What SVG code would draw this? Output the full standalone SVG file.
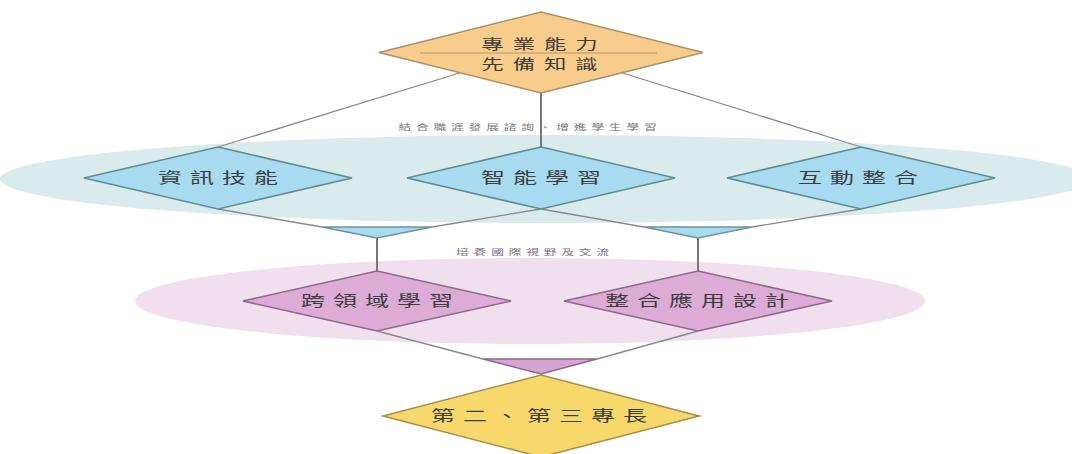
<svg xmlns="http://www.w3.org/2000/svg" width="1072" height="454" viewBox="0 0 1072 454">
<defs>
<style>
.t{font-family:"Noto Sans CJK TC","Noto Sans CJK SC",sans-serif;font-size:15px;fill:#3d3d3d;text-anchor:middle;letter-spacing:5px}
.tt{font-size:14px;letter-spacing:5.6px}
.s{font-family:"Noto Sans CJK TC","Noto Sans CJK SC",sans-serif;font-size:8.5px;fill:#777;text-anchor:middle;letter-spacing:3.2px}
.c{stroke:#8a8a8a;stroke-width:1.3;fill:none}
.v{stroke:#777;stroke-width:2;fill:none}
.blue{fill:#a8dbef;stroke:#5e8d93;stroke-width:1.6}
.pink{fill:#dcabd6;stroke:#8e6a8c;stroke-width:1.6}
</style>
</defs>
<rect width="1072" height="454" fill="#fff"/>
<g id="bands">
<ellipse cx="545" cy="179" rx="545" ry="44" fill="#d9ebec"/>
<ellipse cx="530" cy="301" rx="395" ry="43" fill="#f1dfee"/>
</g>
<g id="labels">
<text class="s" transform="translate(530,130) scale(1.5,1)">結合職涯發展諮詢、增進學生學習</text>
<text class="s" transform="translate(535,255) scale(1.5,1)" style="fill:#7e6e8a">培養國際視野及交流</text>
</g>
<g id="connectors">
<line class="c" x1="459.5" y1="73" x2="218" y2="147"/>
<line class="c" x1="622.5" y1="73" x2="861" y2="147"/>
<line class="v" x1="541" y1="93" x2="541" y2="147"/>
<line class="c" x1="218" y1="209" x2="322" y2="227"/>
<line class="c" x1="541" y1="209" x2="432" y2="227"/>
<line class="c" x1="541" y1="209" x2="644" y2="227"/>
<line class="c" x1="861" y1="209" x2="752" y2="227"/>
<line class="v" x1="377" y1="238" x2="377" y2="271"/>
<line class="v" x1="698" y1="238" x2="698" y2="271"/>
<line class="c" x1="377" y1="331" x2="483" y2="359"/>
<line class="c" x1="698" y1="331" x2="597" y2="359"/>
<polygon points="322,227 432,227 377,238" fill="#a8dbef" stroke="#6f9298" stroke-width="1.3"/>
<polygon points="644,227 752,227 698,238" fill="#a8dbef" stroke="#6f9298" stroke-width="1.3"/>
<polygon points="483,359 597,359 541,374" fill="#d6a3d2" stroke="#8e6a8c" stroke-width="1.3"/>
</g>
<g id="n-top">
<polygon points="541,12 703,52.5 541,93 379,52.5" fill="#f8cd8c" stroke="#a8926a" stroke-width="1.6"/>
<line x1="420" y1="53" x2="657" y2="53" stroke="#b49668" stroke-width="1"/>
<text class="t tt" transform="translate(544,49) scale(1.6,1)">專業能力</text>
<text class="t tt" transform="translate(544,69) scale(1.6,1)">先備知識</text>
</g>
<g id="n-info">
<polygon class="blue" points="218,147 352,178 218,209 84,178"/>
<text class="t" transform="translate(222,183) scale(1.6,1)">資訊技能</text>
</g>
<g id="n-smart">
<polygon class="blue" points="541,147 675,178 541,209 407,178"/>
<text class="t" transform="translate(545,183) scale(1.6,1)">智能學習</text>
</g>
<g id="n-interact">
<polygon class="blue" points="861,147 995,178 861,209 727,178"/>
<text class="t" transform="translate(862,183) scale(1.6,1)">互動整合</text>
</g>
<g id="n-cross">
<polygon class="pink" points="377,271 511,301 377,331 243,301"/>
<text class="t" transform="translate(381,306) scale(1.6,1)">跨領域學習</text>
</g>
<g id="n-design">
<polygon class="pink" points="698,271 832,301 698,331 564,301"/>
<text class="t" transform="translate(701,306) scale(1.6,1)">整合應用設計</text>
</g>
<g id="n-second">
<polygon points="541,375 699,416 541,457 383,416" fill="#f6d96a" stroke="#a99150" stroke-width="1.6"/>
<text class="t" transform="translate(543,421) scale(1.6,1)">第二、第三專長</text>
</g>
</svg>
